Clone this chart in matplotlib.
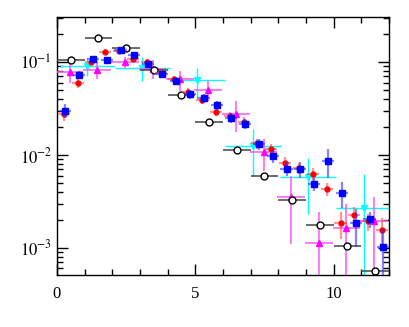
import matplotlib
matplotlib.use("Agg")
import matplotlib.pyplot as plt
from matplotlib.ticker import MultipleLocator, LogLocator, FixedLocator, NullFormatter, FixedFormatter
import numpy as np

plt.rcParams['font.family'] = ['Liberation Serif', 'DejaVu Serif']
plt.rcParams['mathtext.fontset'] = 'stix'

# black open circles
blk_x = [0.5, 1.5, 2.5, 3.5, 4.5, 5.5, 6.5, 7.5, 8.5, 9.5, 10.5, 11.5]
blk_y = [0.105, 0.18, 0.14, 0.082, 0.044, 0.0227, 0.0112, 0.0060, 0.0033, 0.00177, 0.00104, 0.00056]
blk_xe = [0.5] * 12

# red filled circles
red_x = [0.25, 0.75, 1.25, 1.75, 2.25, 2.75, 3.25, 3.75, 4.25, 4.75, 5.25, 5.75,
         6.25, 6.75, 7.25, 7.75, 8.25, 8.75, 9.25, 9.75, 10.25, 10.75, 11.25, 11.75]
red_y = [0.0274, 0.059, 0.100, 0.129, 0.132, 0.109, 0.100, 0.077, 0.065, 0.048, 0.039, 0.0292,
         0.026, 0.0228, 0.0133, 0.0116, 0.0082, 0.0072, 0.0063, 0.0043, 0.00184, 0.00223, 0.00193, 0.00157]
red_ye = [0.004, 0.006, 0.007, 0.008, 0.008, 0.007, 0.007, 0.006, 0.005, 0.004, 0.0035, 0.003,
          0.0028, 0.0025, 0.0017, 0.0015, 0.0012, 0.001, 0.0010, 0.0007, 0.0006, 0.0005, 0.0004, 0.0005]

# blue squares
blu_x = [0.3, 0.8, 1.3, 1.8, 2.3, 2.8, 3.3, 3.8, 4.3, 4.8, 5.3, 5.8,
         6.3, 6.8, 7.3, 7.8, 8.3, 8.8, 9.3, 9.8, 10.3, 10.8, 11.3, 11.8]
blu_y = [0.030, 0.0725, 0.108, 0.105, 0.135, 0.120, 0.095, 0.074, 0.063, 0.045, 0.041, 0.0345,
         0.0252, 0.0216, 0.0130, 0.0097, 0.0071, 0.0070, 0.0049, 0.0087, 0.0039, 0.00183, 0.00204, 0.00101]
blu_ye = [0.005, 0.007, 0.009, 0.009, 0.01, 0.009, 0.008, 0.007, 0.006, 0.005, 0.0045, 0.004,
          0.003, 0.0028, 0.0018, 0.0015, 0.0012, 0.0013, 0.0008, 0.0030, 0.0012, 0.0008, 0.0004, 0.0006]

# magenta triangles
mag_x = [0.46, 1.46, 2.46, 3.46, 4.46, 5.46, 6.47, 7.47, 8.47, 9.47, 10.46, 11.46]
mag_y = [0.0775, 0.083, 0.100, 0.085, 0.065, 0.050, 0.0276, 0.0107, 0.0035, 0.00112, 0.00165, 0.00196]
mag_ye = [0.018, 0.018, 0.014, 0.02, 0.016, 0.012, 0.010, 0.004, 0.0024, 0.0013, 0.0013, 0.0016]
mag_xe = [0.5] * 12

# cyan inverted triangles
cya_x = [1.1, 3.09, 5.08, 7.09, 9.08, 11.1]
cya_y = [0.091, 0.087, 0.064, 0.0125, 0.0058, 0.0027]
cya_ye = [0.02, 0.025, 0.022, 0.0065, 0.0035, 0.0035]
cya_xe = [1.0] * 6

fig = plt.figure(figsize=(4.09, 3.27), dpi=100)
ax = fig.add_axes([0.139, 0.159, 0.812, 0.789])
ax.set_yscale('log')

ax.errorbar(cya_x, cya_y, xerr=cya_xe, yerr=cya_ye, fmt='v', color='#00ffff', ms=5,
            ecolor='#00ffff', elinewidth=1, capsize=0, zorder=2)
ax.errorbar(mag_x, mag_y, xerr=mag_xe, yerr=mag_ye, fmt='^', color='#ff00ff', ms=5,
            ecolor='#ff55ff', elinewidth=1.1, capsize=0, zorder=3)
ax.errorbar(blk_x, blk_y, xerr=blk_xe, fmt='o', mfc='white', mec='black', mew=1, ms=5,
            ecolor='#444444', elinewidth=1.1, capsize=0, zorder=4)
ax.errorbar(red_x, red_y, xerr=0.22, yerr=red_ye, fmt='o', color='#ff0000', ms=3.5,
            ecolor=(1, 0.3, 0.3, 0.6), elinewidth=1.6, capsize=0, zorder=5)
ax.errorbar(blu_x, blu_y, xerr=0.22, yerr=blu_ye, fmt='s', color='#0000ff', ms=4,
            ecolor=(0.2, 0.2, 1, 0.6), elinewidth=1.6, capsize=0, zorder=6)

ax.set_xlim(0, 12)
ax.set_ylim(5.1e-4, 0.305)

ax.xaxis.set_major_locator(FixedLocator([0, 5, 10]))
ax.xaxis.set_major_formatter(FixedFormatter(['0', '5', '10']))
ax.xaxis.set_minor_locator(MultipleLocator(1))
ax.yaxis.set_major_locator(FixedLocator([1e-3, 1e-2, 1e-1]))
ax.yaxis.set_major_formatter(FixedFormatter([r'$10^{-3}$', r'$10^{-2}$', r'$10^{-1}$']))
ax.yaxis.set_minor_locator(LogLocator(base=10, subs=np.arange(2, 10)))
ax.yaxis.set_minor_formatter(NullFormatter())

ax.tick_params(which='both', direction='in', top=True, right=True, labelsize=12, colors='black')
ax.tick_params(which='major', length=8, width=1)
ax.tick_params(which='minor', length=4, width=1)
ax.tick_params(axis='x', pad=8)
for s in ax.spines.values():
    s.set_linewidth(1)

fig.savefig('out.png', dpi=100)
